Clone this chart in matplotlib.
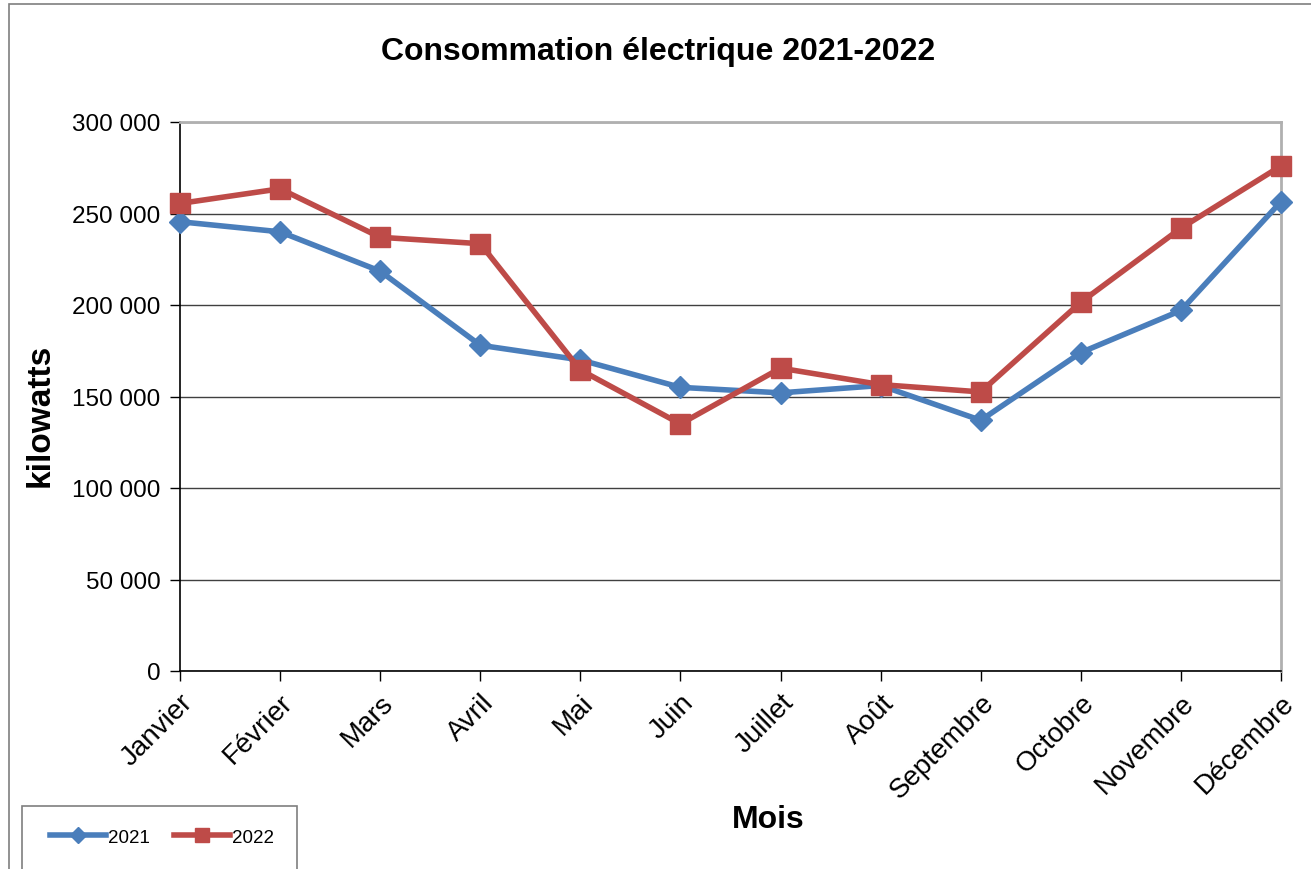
import matplotlib.pyplot as plt
from matplotlib.patches import Rectangle
from matplotlib.ticker import FuncFormatter

plt.rcParams['font.family'] = ['Liberation Sans', 'DejaVu Sans']

mois = ['Janvier', 'Février', 'Mars', 'Avril', 'Mai', 'Juin', 'Juillet',
        'Août', 'Septembre', 'Octobre', 'Novembre', 'Décembre']
conso_2021 = [245500, 240000, 218500, 178000, 170000, 155000, 152000,
              156000, 137000, 174000, 197000, 256500]
conso_2022 = [255500, 263500, 237000, 233500, 164500, 135000, 165500,
              156500, 152500, 201500, 242000, 276000]

W, H = 1311, 870
fig = plt.figure(figsize=(W / 100, H / 100), dpi=100)
ax = fig.add_axes([180 / W, 1 - 672 / H, (1281 - 180) / W, (672 - 123) / H])

x = list(range(len(mois)))
ax.plot(x, conso_2021, color='#4a7ebb', lw=4, marker='D', ms=11,
        label='2021', zorder=3, clip_on=False)
ax.plot(x, conso_2022, color='#be4b48', lw=4, marker='s', ms=14,
        label='2022', zorder=3, clip_on=False)

ax.set_xlim(0, 11)
ax.set_ylim(0, 300000)
ax.set_yticks(range(0, 300001, 50000))
ax.yaxis.set_major_formatter(FuncFormatter(lambda v, p: f'{int(v):,}'.replace(',', ' ')))
ax.set_xticks(x)
ax.set_xticklabels(mois, rotation=45, ha='right', rotation_mode='anchor')
ax.tick_params(length=7, width=1, direction='out', color='black')
ax.tick_params(axis='y', labelsize=17.5, pad=7)
ax.tick_params(axis='x', labelsize=20, pad=6)

ax.grid(axis='y', color='#404040', lw=1)
ax.set_axisbelow(True)
for side in ['top', 'right']:
    ax.spines[side].set_color('#b0b0b0')
    ax.spines[side].set_linewidth(2)
for side in ['left', 'bottom']:
    ax.spines[side].set_color('black')
    ax.spines[side].set_linewidth(1.2)

fig.text(658 / W, 1 - 52 / H, 'Consommation électrique 2021-2022',
         ha='center', va='center', fontsize=23, fontweight='bold')
fig.text(40 / W, 1 - 415 / H, 'kilowatts', rotation=90, ha='center',
         va='center', fontsize=24, fontweight='bold')
fig.text(768 / W, 1 - 820 / H, 'Mois', ha='center', va='center',
         fontsize=23, fontweight='bold')

# outer chart border
fig.patches.append(Rectangle((9 / W, -0.1), 1.2, 1 - 5 / H + 0.1,
                             transform=fig.transFigure, fill=False,
                             edgecolor='#7f7f7f', lw=1.2))
# legend box
fig.patches.append(Rectangle((22 / W, -0.1), (297 - 22) / W, 1 - 807 / H + 0.1,
                             transform=fig.transFigure, fill=False,
                             edgecolor='#7f7f7f', lw=1.2))
fig.legend(loc='center', bbox_to_anchor=(162 / W, 1 - 838 / H), ncol=2,
           frameon=False, fontsize=13.5, handlelength=3.0, handletextpad=0.1,
           columnspacing=1.3, markerscale=0.7)

fig.savefig('out.png', dpi=100)
